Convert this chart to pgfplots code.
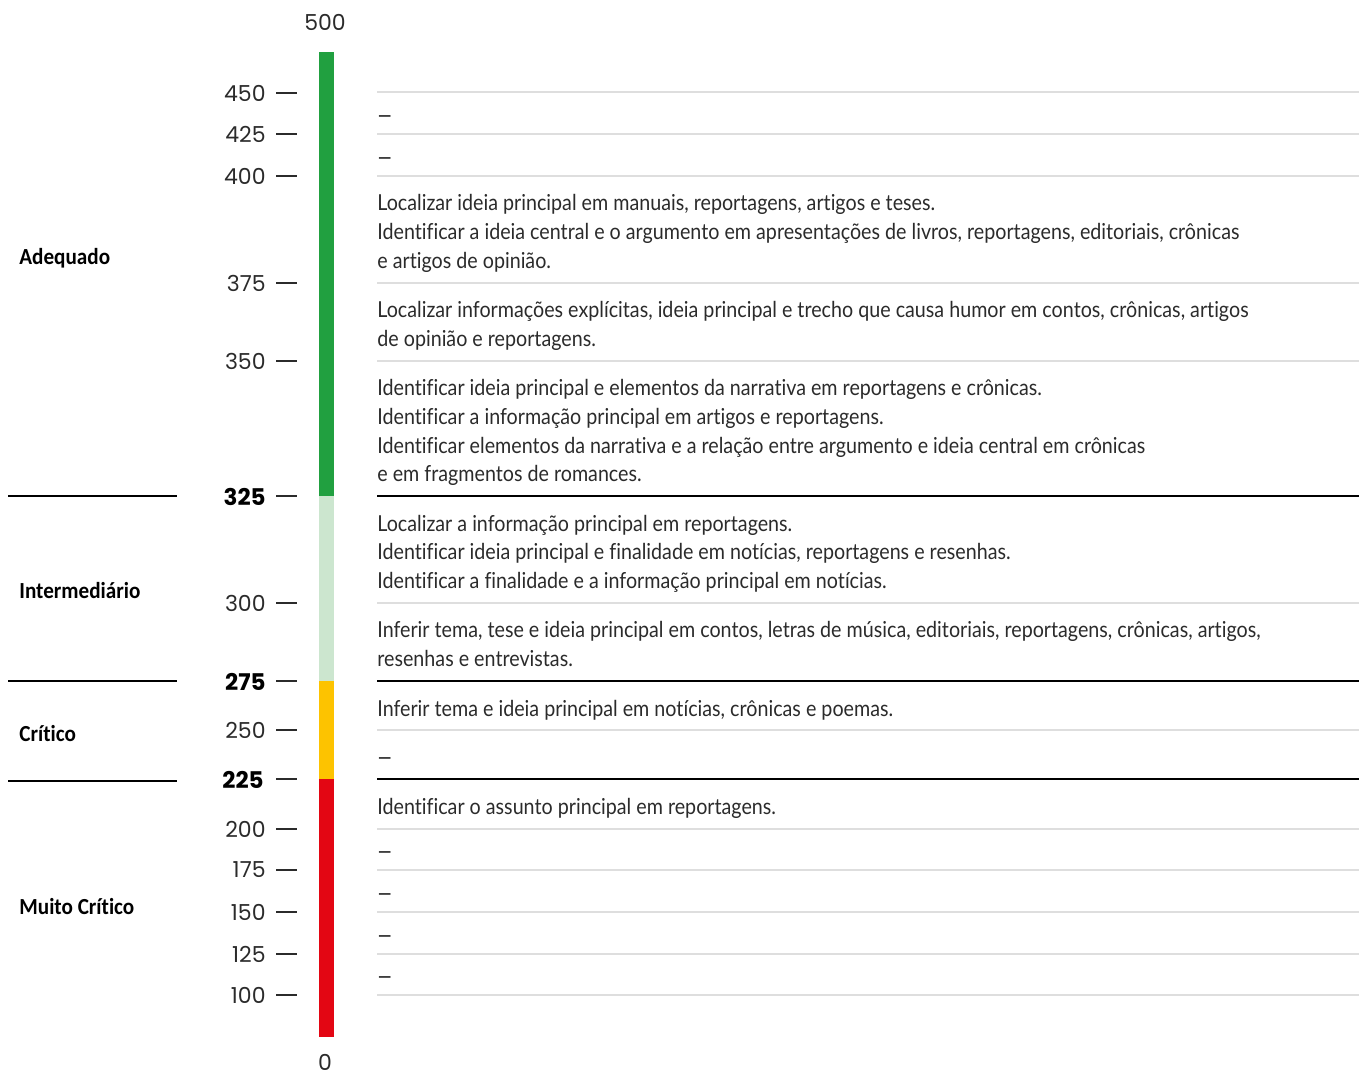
\documentclass[border=0pt]{standalone}
\usepackage{fontspec}
\setmainfont{Lato}
\newfontfamily\bodyfont[FakeStretch=0.895, Ligatures={NoCommon}]{Lato}
\newfontfamily\numfont{Poppins}
\newfontfamily\labfont[FakeStretch=0.92, Ligatures={NoCommon}]{Carlito}
\usepackage{pgfplots}
\pgfplotsset{compat=1.18}
\definecolor{cGreen}{HTML}{21A040}
\definecolor{cLight}{HTML}{CCE6CF}
\definecolor{cYellow}{HTML}{FDC300}
\definecolor{cRed}{HTML}{E30613}
\definecolor{cGrid}{HTML}{DEDEDE}
\definecolor{cText}{HTML}{2B2B2B}
\newcommand{\dash}{{\numfont –}}
\begin{document}
\begin{tikzpicture}
\begin{axis}[name=ax, scale only axis, width=679.5pt, height=538.5pt,
  xmin=0, xmax=1359, ymin=0, ymax=1077, y dir=reverse,
  hide axis, ticks=none, clip=false, unbounded coords=jump]
% bar segments (pixel positions of 500,325,275,225,0)
\addplot[fill=cGreen, draw=none] coordinates {(319,52)(334,52)(334,496)(319,496)} -- cycle;
\addplot[fill=cLight, draw=none] coordinates {(319,496)(334,496)(334,681)(319,681)} -- cycle;
\addplot[fill=cYellow, draw=none] coordinates {(319,681)(334,681)(334,779)(319,779)} -- cycle;
\addplot[fill=cRed, draw=none] coordinates {(319,779)(334,779)(334,1037)(319,1037)} -- cycle;
% tick marks
\addplot[cText, line width=0.6pt] coordinates {
(276,93)(297,93) (nan,nan) (276,134)(297,134) (nan,nan) (276,176)(297,176) (nan,nan)
(276,283)(297,283) (nan,nan) (276,361)(297,361) (nan,nan) (276,496)(297,496) (nan,nan)
(276,603)(297,603) (nan,nan) (276,681)(297,681) (nan,nan) (276,730)(297,730) (nan,nan)
(276,779)(297,779) (nan,nan) (276,829)(297,829) (nan,nan) (276,870)(297,870) (nan,nan)
(276,912)(297,912) (nan,nan) (276,954)(297,954) (nan,nan) (276,995)(297,995)};
% light grid lines
\addplot[cGrid, line width=0.8pt] coordinates {
(377,92)(1359,92) (nan,nan) (377,134)(1359,134) (nan,nan) (377,176)(1359,176) (nan,nan)
(377,283)(1359,283) (nan,nan) (377,361)(1359,361) (nan,nan) (377,603)(1359,603) (nan,nan)
(377,730)(1359,730) (nan,nan) (377,829)(1359,829) (nan,nan) (377,870)(1359,870) (nan,nan)
(377,912)(1359,912) (nan,nan) (377,954)(1359,954) (nan,nan) (377,995)(1359,995)};
% level boundaries
\addplot[black, line width=0.8pt] coordinates {
(377,496)(1359,496) (nan,nan) (377,681)(1359,681) (nan,nan) (377,779)(1359,779) (nan,nan)
(8,496)(177,496) (nan,nan) (8,681)(177,681) (nan,nan) (8,781)(177,781)};
% tick labels
\begin{scope}[every node/.style={inner sep=0pt, text=cText, font=\numfont\fontsize{11}{13}\selectfont}]
\node[anchor=east] at (axis cs:266,93) {450};
\node[anchor=east] at (axis cs:266,134) {425};
\node[anchor=east] at (axis cs:266,176) {400};
\node[anchor=east] at (axis cs:266,283) {375};
\node[anchor=east] at (axis cs:266,361) {350};
\node[anchor=east, font=\numfont\bfseries\fontsize{11.5}{13}\selectfont, text=black] at (axis cs:266,497) {325};
\node[anchor=east] at (axis cs:266,603) {300};
\node[anchor=east, font=\numfont\bfseries\fontsize{11.5}{13}\selectfont, text=black] at (axis cs:266,682) {275};
\node[anchor=east] at (axis cs:266,730) {250};
\node[anchor=east, font=\numfont\bfseries\fontsize{11.5}{13}\selectfont, text=black] at (axis cs:264,780) {225};
\node[anchor=east] at (axis cs:266,829) {200};
\node[anchor=east] at (axis cs:266,870) {175};
\node[anchor=east] at (axis cs:266,912) {150};
\node[anchor=east] at (axis cs:266,954) {125};
\node[anchor=east] at (axis cs:266,995) {100};
\node at (axis cs:325,22) {500};
\node at (axis cs:325,1062) {0};
\end{scope}
% level labels
\begin{scope}[every node/.style={inner sep=0pt, anchor=base west, text=black, font=\labfont\bfseries\fontsize{11.5}{13}\selectfont}]
\node at (axis cs:19,264) {Adequado};
\node at (axis cs:19,598) {Intermediário};
\node at (axis cs:19,741) {Crítico};
\node at (axis cs:19,914) {Muito Crítico};
\end{scope}
% descriptions
\begin{scope}[every node/.style={inner sep=0pt, anchor=base west, text=cText, font=\bodyfont\fontsize{11}{13}\selectfont}]
\node at (axis cs:377,124) {\dash};
\node at (axis cs:377,166) {\dash};
\node at (axis cs:377,210) {Localizar ideia principal em manuais, reportagens, artigos e teses.};
\node at (axis cs:377,239) {Identificar a ideia central e o argumento em apresentações de livros, reportagens, editoriais, crônicas};
\node at (axis cs:377,268) {e artigos de opinião.};
\node at (axis cs:377,317) {Localizar informações explícitas, ideia principal e trecho que causa humor em contos, crônicas, artigos};
\node at (axis cs:377,346) {de opinião e reportagens.};
\node at (axis cs:377,395) {Identificar ideia principal e elementos da narrativa em reportagens e crônicas.};
\node at (axis cs:377,424) {Identificar a informação principal em artigos e reportagens.};
\node at (axis cs:377,453) {Identificar elementos da narrativa e a relação entre argumento e ideia central em crônicas};
\node at (axis cs:377,481) {e em fragmentos de romances.};
\node at (axis cs:377,531) {Localizar a informação principal em reportagens.};
\node at (axis cs:377,559) {Identificar ideia principal e finalidade em notícias, reportagens e resenhas.};
\node at (axis cs:377,588) {Identificar a finalidade e a informação principal em notícias.};
\node at (axis cs:377,637) {Inferir tema, tese e ideia principal em contos, letras de música, editoriais, reportagens, crônicas, artigos,};
\node at (axis cs:377,666) {resenhas e entrevistas.};
\node at (axis cs:377,716) {Inferir tema e ideia principal em notícias, crônicas e poemas.};
\node at (axis cs:377,766) {\dash};
\node at (axis cs:377,814) {Identificar o assunto principal em reportagens.};
\node at (axis cs:377,860) {\dash};
\node at (axis cs:377,902) {\dash};
\node at (axis cs:377,944) {\dash};
\node at (axis cs:377,985) {\dash};
\end{scope}
\end{axis}
\pgfresetboundingbox
\path[use as bounding box] (ax.south west) rectangle (ax.north east);
\end{tikzpicture}
\end{document}
